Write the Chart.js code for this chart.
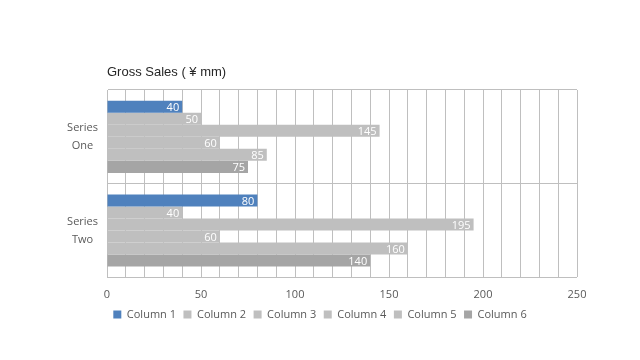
<!DOCTYPE html>
<html>
<head>
<meta charset="utf-8">
<script src="https://cdn.jsdelivr.net/npm/chart.js@4"></script>
<style>
  html, body { margin: 0; padding: 0; background: #fff; }
  #wrap { width: 640px; height: 360px; }
</style>
</head>
<body>
<div id="wrap"><canvas id="chart" width="640" height="360"></canvas></div>
<script>
const categories = [["Series", "One"], ["Series", "Two"]];
const seriesNames = ["Column 1", "Column 2", "Column 3", "Column 4", "Column 5", "Column 6"];
const column1 = [40, 80];
const column2 = [50, 40];
const column3 = [145, 195];
const column4 = [60, 60];
const column5 = [85, 160];
const column6 = [75, 140];
const colors = ["#4F81BD", "#BFBFBF", "#BFBFBF", "#BFBFBF", "#BFBFBF", "#A5A5A5"];

const values = [column1, column2, column3, column4, column5, column6];

// title drawn at left edge of plot area
const titlePlugin = {
  id: "leftTitle",
  afterDraw(chart) {
    const ctx = chart.ctx;
    ctx.save();
    ctx.fillStyle = "#262626";
    ctx.font = "13px 'Liberation Sans', Arial, sans-serif";
    ctx.textBaseline = "middle";
    ctx.textAlign = "left";
    ctx.fillText("Gross Sales ( \u00A5 mm)", chart.chartArea.left, 72);
    ctx.restore();
  }
};

// white value labels at the inside end of each bar
const valueLabels = {
  id: "valueLabels",
  afterDatasetsDraw(chart) {
    const ctx = chart.ctx;
    ctx.save();
    ctx.fillStyle = "#fff";
    ctx.font = "11px 'Open Sans', sans-serif";
    ctx.textAlign = "right";
    ctx.textBaseline = "middle";
    chart.data.datasets.forEach((ds, i) => {
      chart.getDatasetMeta(i).data.forEach((bar, j) => {
        ctx.fillText(ds.data[j], bar.x - 3, bar.y + 1);
      });
    });
    ctx.restore();
  }
};

new Chart(document.getElementById("chart"), {
  type: "bar",
  data: {
    labels: categories,
    datasets: seriesNames.map((name, i) => ({
      label: name,
      data: values[i],
      backgroundColor: colors[i],
      borderWidth: 0,
      barPercentage: 1,
      categoryPercentage: 0.77
    }))
  },
  options: {
    indexAxis: "y",
    responsive: false,
    animation: false,
    layout: { padding: { top: 90, left: 63, right: 63, bottom: 30 } },
    scales: {
      x: {
        min: 0,
        max: 250,
        grid: { color: "#BFBFBF", drawTicks: false },
        border: { display: false },
        afterFit(scale) { scale.height -= 11; },
        ticks: {
          stepSize: 10,
          autoSkip: false,
          maxRotation: 0,
          padding: 11,
          color: "#595959",
          font: { family: "'Open Sans', sans-serif", size: 11 },
          callback: (v) => (v % 50 === 0 ? v : "")
        }
      },
      y: {
        grid: { color: "#BFBFBF", offset: true, drawTicks: false },
        border: { color: "#BFBFBF" },
        afterFit(scale) { scale.width = 44; },
        ticks: {
          padding: 9,
          crossAlign: "center",
          color: "#595959",
          font: { family: "'Open Sans', sans-serif", size: 11, lineHeight: 1.65 }
        }
      }
    },
    plugins: {
      legend: {
        position: "bottom",
        labels: {
          boxWidth: 8,
          boxHeight: 8,
          padding: 7.5,
          color: "#595959",
          font: { family: "'Open Sans', sans-serif", size: 11 }
        }
      },
      tooltip: { enabled: false }
    }
  },
  plugins: [titlePlugin, valueLabels]
});
</script>
</body>
</html>
